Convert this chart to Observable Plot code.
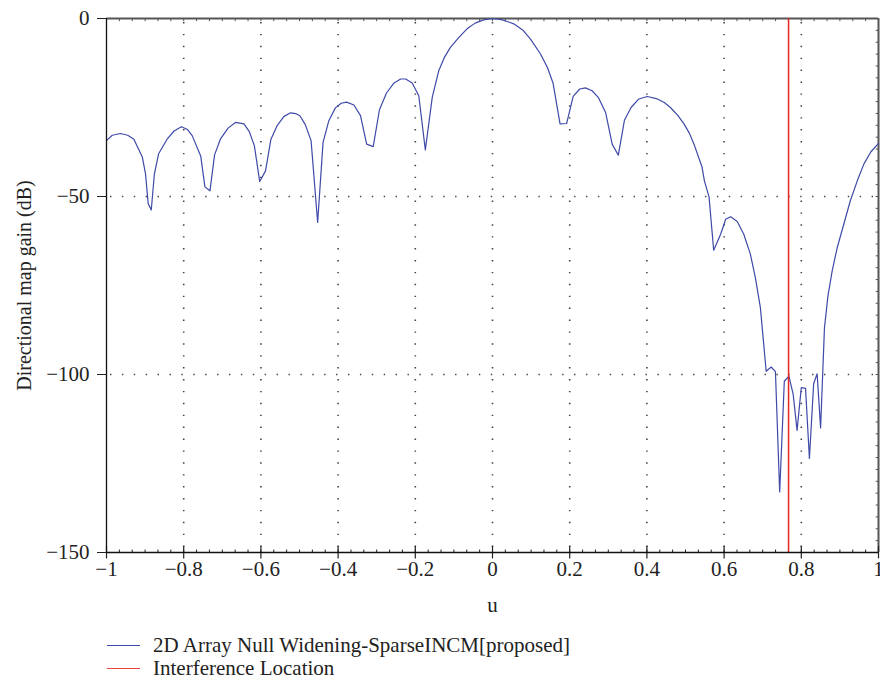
<!DOCTYPE html>
<html>
<head>
<meta charset="utf-8">
<script src="https://cdn.jsdelivr.net/npm/d3@7"></script>
<script src="https://cdn.jsdelivr.net/npm/@observablehq/plot@0.6"></script>
<style>
  body { margin: 0; background: #fff; font-family: "Liberation Serif", "DejaVu Serif", serif; }
  #chart svg { display: block; }
  .legend { padding-left: 107px; margin-top: 12px; font-size: 21px; color: #222; }
  .legend .row { display: flex; align-items: center; height: 23px; }
  .legend .swatch { width: 33px; height: 1.4px; margin-right: 13px; }
</style>
</head>
<body>
<div id="chart"></div>
<div class="legend">
  <div class="row"><span class="swatch" style="background:#3f4aa8"></span>2D Array Null Widening-SparseINCM[proposed]</div>
  <div class="row"><span class="swatch" style="background:#e8473d"></span>Interference Location</div>
</div>
<script>
// Beam pattern samples: direction cosine u and directional gain (dB)
const u = [
  -1.000, -0.985, -0.964, -0.945, -0.929, -0.907, -0.899, -0.892, -0.884, -0.876,
  -0.865, -0.843, -0.825, -0.806, -0.790, -0.778, -0.756, -0.745, -0.732, -0.720,
  -0.705, -0.685, -0.666, -0.644, -0.630, -0.617, -0.603, -0.588, -0.574, -0.558,
  -0.540, -0.523, -0.510, -0.499, -0.485, -0.470, -0.453, -0.439, -0.424, -0.407,
  -0.392, -0.378, -0.359, -0.342, -0.326, -0.309, -0.293, -0.275, -0.256, -0.238,
  -0.225, -0.208, -0.191, -0.174, -0.156, -0.139, -0.125, -0.109, -0.087, -0.066,
  -0.045, -0.023, 0.000, 0.023, 0.040, 0.055, 0.078, 0.098, 0.124, 0.142,
  0.157, 0.175, 0.192, 0.209, 0.226, 0.241, 0.258, 0.275, 0.293, 0.310,
  0.326, 0.342, 0.359, 0.379, 0.401, 0.427, 0.445, 0.461, 0.480, 0.496,
  0.510, 0.522, 0.543, 0.549, 0.561, 0.573, 0.591, 0.604, 0.617, 0.634,
  0.651, 0.668, 0.681, 0.694, 0.709, 0.722, 0.733, 0.744, 0.756, 0.768,
  0.779, 0.789, 0.800, 0.811, 0.821, 0.832, 0.841, 0.850, 0.860, 0.869,
  0.880, 0.893, 0.910, 0.927, 0.945, 0.962, 0.980, 1.000
];
const gain = [
  -34.3, -32.8, -32.3, -32.8, -33.9, -39.0, -43.6, -52.0, -53.8, -43.7,
  -38.0, -33.9, -31.6, -30.4, -31.2, -32.9, -38.6, -47.3, -48.4, -38.3,
  -33.9, -30.8, -29.2, -29.6, -31.8, -35.7, -45.8, -42.8, -33.9, -30.1,
  -27.5, -26.5, -26.7, -27.3, -29.8, -34.3, -57.3, -34.8, -28.7, -25.1,
  -23.8, -23.5, -24.3, -27.3, -35.3, -36.0, -25.7, -21.0, -18.2, -17.0,
  -17.0, -18.1, -21.7, -36.9, -22.1, -14.6, -11.0, -8.1, -5.3, -2.9,
  -1.3, -0.4, 0.0, -0.3, -0.9, -1.5, -3.2, -5.7, -9.9, -13.7,
  -18.2, -29.6, -29.5, -21.9, -19.8, -19.5, -20.3, -22.3, -26.4, -35.3,
  -38.4, -28.5, -25.0, -22.6, -21.9, -22.6, -23.6, -25.0, -27.2, -29.6,
  -32.2, -35.3, -41.8, -45.6, -50.1, -65.1, -60.6, -56.4, -55.7, -57.0,
  -60.6, -66.2, -72.8, -81.2, -99.1, -97.9, -99.2, -133.0, -101.9, -100.5,
  -105.6, -115.7, -103.7, -103.9, -123.6, -102.6, -99.8, -115.0, -86.9, -78.0,
  -70.9, -64.4, -57.8, -51.2, -45.6, -40.9, -37.5, -35.1
];
const interferenceU = [0.767];

const xTicks = [-1, -0.8, -0.6, -0.4, -0.2, 0, 0.2, 0.4, 0.6, 0.8, 1];
const yTicks = [0, -50, -100, -150];
const xGrid = [-0.8, -0.6, -0.4, -0.2, 0, 0.2, 0.4, 0.6, 0.8];
const yGrid = [-50, -100];
const xMinor = d3.range(-30, 31).map(i => i / 30);
const yMinor = d3.range(0, 46).map(i => -i * 10 / 3);

const pattern = u.map((v, i) => ({u: v, gain: gain[i]}));
const fmt = d3.format("");

const W = 880, H = 622;
const chart = Plot.plot({
  width: W,
  height: H,
  marginLeft: 106,
  marginRight: 2,
  marginTop: 18,
  marginBottom: 70,
  style: {fontFamily: "'Liberation Serif', serif", fontSize: "21px", color: "#222", background: "#fff"},
  x: {domain: [-1, 1], ticks: xTicks, tickFormat: fmt, tickSize: 0, tickPadding: 9, label: null},
  y: {domain: [-150, 0], ticks: yTicks, tickFormat: fmt, tickSize: 9, tickPadding: 8, label: null},
  marks: [
    // dotted grid
    Plot.ruleX(xGrid, {stroke: "#444", strokeWidth: 1.6, strokeDasharray: "1.4,10.5", strokeDashoffset: -4}),
    Plot.ruleY(yGrid, {stroke: "#444", strokeWidth: 1.6, strokeDasharray: "1.4,10.5", strokeDashoffset: -4}),
    // top and right borders with minor ticks
    Plot.ruleY([0], {stroke: "#555", strokeWidth: 2}),
    Plot.ruleX([1], {stroke: "#555", strokeWidth: 2}),
    Plot.ruleX(xMinor, {y1: 0, y2: -0.9, stroke: "#555", strokeWidth: 1}),
    Plot.ruleY(yMinor, {x1: 1, x2: 0.994, stroke: "#555", strokeWidth: 1}),
    // bottom axis minor and major ticks
    Plot.ruleX(xMinor, {y1: -150, y2: -149.3, stroke: "#222", strokeWidth: 1}),
    Plot.ruleX(xTicks, {y1: -148.3, y2: -151.8, stroke: "#222", strokeWidth: 1.2}),
    // pattern and interference location
    Plot.line(pattern, {x: "u", y: "gain", stroke: "#3f4aa8", strokeWidth: 1.2}),
    Plot.ruleX(interferenceU, {stroke: "#e5261f", strokeWidth: 1.5}),
    // left and bottom axis lines
    Plot.ruleX([-1], {stroke: "#111", strokeWidth: 1.3}),
    Plot.ruleY([-150], {stroke: "#111", strokeWidth: 1.3}),
    // axis titles
    Plot.text(["u"], {frameAnchor: "bottom", textAnchor: "middle", dy: 59, fontSize: 21, fill: "#222"}),
    Plot.text(["Directional map gain (dB)"], {frameAnchor: "left", textAnchor: "middle", rotate: -90, dx: -82, fontSize: 20, fill: "#222"})
  ]
});
document.getElementById("chart").appendChild(chart);
</script>
</body>
</html>
